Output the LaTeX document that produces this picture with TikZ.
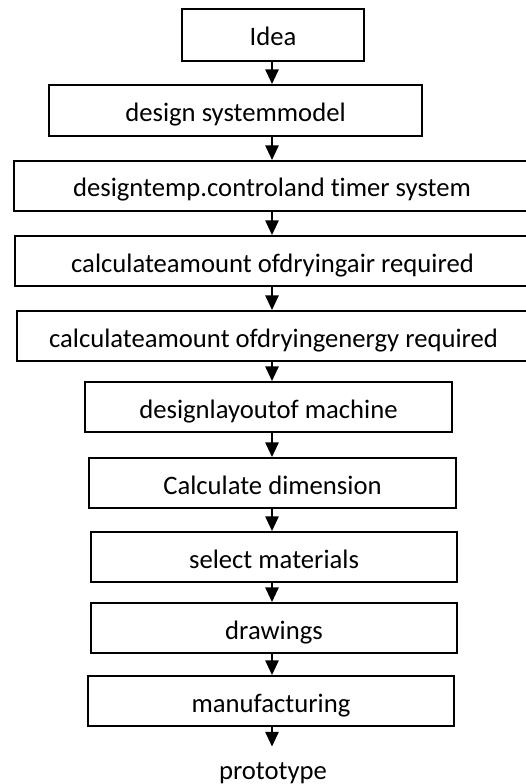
\documentclass[tikz,border=0pt]{standalone}
\usepackage{fontspec}
\setmainfont{Carlito}[Ligatures={NoCommon}]
\usetikzlibrary{arrows.meta}

\tikzset{every picture/.style={line width=0.75pt}}
\tikzset{
	stepbox/.style={draw, line width=1.5pt, inner sep=0pt, minimum height=37.5pt, text height=16.5pt, text depth=0pt, font=\fontsize{20pt}{24pt}\selectfont},
	flowarrow/.style={line width=1.4pt, -{Triangle[length=11pt,width=10pt]}}
}

\begin{document}
\begin{tikzpicture}[x=0.75pt,y=0.75pt,yscale=-1,xscale=1]
	\useasboundingbox (0,0) rectangle (525,784);
	%vertical axis of the arrows
	\coordinate (axis) at (272,0);

	% Text Node
	\node [stepbox, minimum width=136.5pt, minimum height=39pt] (idea) at (273,35) {Idea};
	% Text Node
	\node [stepbox, minimum width=279.75pt, minimum height=38.25pt] (model) at (235.5,110.5) {design systemmodel};
	% Text Node
	\node [stepbox, minimum width=387pt] (timer) at (272,186) {designtemp.controland timer system};
	% Text Node
	\node [stepbox, minimum width=386.25pt] (air) at (272.5,261) {calculateamount ofdryingair required};
	% Text Node
	\node [stepbox, minimum width=384.75pt] (energy) at (273.5,336) {calculateamount ofdryingenergy required};
	% Text Node
	\node [stepbox, minimum width=275.25pt] (layout) at (268.5,407) {designlayoutof machine};
	% Text Node
	\node [stepbox, minimum width=275.25pt] (dimension) at (272.5,483) {Calculate dimension};
	% Text Node
	\node [stepbox, minimum width=274.5pt] (materials) at (274,557) {select materials};
	% Text Node
	\node [stepbox, minimum width=274.5pt] (drawings) at (274,628) {drawings};
	% Text Node
	\node [stepbox, minimum width=274.5pt] (manufacturing) at (271,701) {manufacturing};
	% Text Node
	\node [anchor=base, inner sep=7.5pt, text height=16.5pt, text depth=0pt, font=\fontsize{20pt}{24pt}\selectfont] (prototype) at (273,779) {prototype};

	%Straight Lines
	\draw [flowarrow] (axis |- idea.south) -- (axis |- model.north);
	\draw [flowarrow] (axis |- model.south) -- (axis |- timer.north);
	\draw [flowarrow] (axis |- timer.south) -- (axis |- air.north);
	\draw [flowarrow] (axis |- air.south) -- (axis |- energy.north);
	\draw [flowarrow] (axis |- energy.south) -- (axis |- layout.north);
	\draw [flowarrow] (axis |- layout.south) -- (axis |- dimension.north);
	\draw [flowarrow] (axis |- dimension.south) -- (axis |- materials.north);
	\draw [flowarrow] (axis |- materials.south) -- (axis |- drawings.north);
	\draw [flowarrow] (axis |- drawings.south) -- (axis |- manufacturing.north);
	\draw [flowarrow] (axis |- manufacturing.south) -- (axis |- prototype.north);

\end{tikzpicture}
\end{document}
